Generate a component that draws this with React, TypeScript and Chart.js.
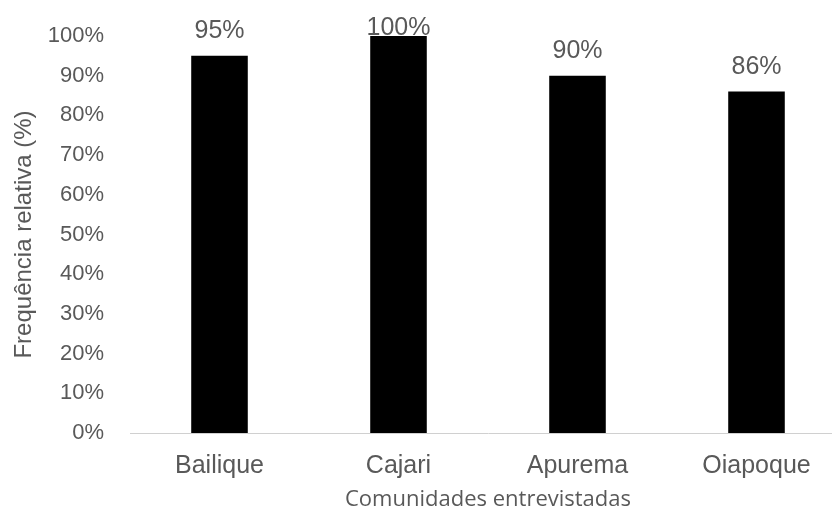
import React, { useEffect, useRef } from "react";
import { Chart, registerables } from "chart.js";

Chart.register(...registerables);

const categories: string[] = ["Bailique", "Cajari", "Apurema", "Oiapoque"];
const frequencies: number[] = [95, 100, 90, 86];
const yTickStep = 10;
const yMax = 100;
const xTitle = "Comunidades entrevistadas";
const yTitle = "Frequência relativa (%)";

const TEXT = "#595959";
const ARIAL = "'Liberation Sans', Arial, sans-serif";

// Value labels above each bar, kept inside the top of the plot area.
const valueLabels = {
  id: "valueLabels",
  afterDatasetsDraw(chart: Chart) {
    const { ctx } = chart;
    const meta = chart.getDatasetMeta(0);
    ctx.save();
    ctx.font = `25px ${ARIAL}`;
    ctx.fillStyle = TEXT;
    ctx.textAlign = "center";
    ctx.textBaseline = "alphabetic";
    meta.data.forEach((el: any, i: number) => {
      const y = Math.max(el.y - 18, chart.chartArea.top - 1);
      ctx.fillText(`${frequencies[i]}%`, el.x, y);
    });
    ctx.restore();
  },
};

export default function App() {
  const ref = useRef<HTMLCanvasElement | null>(null);

  useEffect(() => {
    if (!ref.current) return;
    const chart = new Chart(ref.current, {
      type: "bar",
      data: {
        labels: categories,
        datasets: [
          {
            data: frequencies,
            backgroundColor: "#000000",
            borderWidth: 0,
            categoryPercentage: 1,
            barPercentage: 0.316,
          },
        ],
      },
      options: {
        animation: false,
        responsive: false,
        devicePixelRatio: 1,
        layout: { padding: { top: 36, right: 4, bottom: 0, left: 0 } },
        plugins: {
          legend: { display: false },
          tooltip: { enabled: false },
        },
        scales: {
          x: {
            grid: { display: false, drawTicks: false },
            border: { display: true, color: "#d0d0d0", width: 1 },
            ticks: {
              color: TEXT,
              font: { family: ARIAL, size: 25 },
              padding: 18,
              maxRotation: 0,
            },
            title: {
              display: true,
              text: xTitle,
              color: TEXT,
              font: { family: "'Open Sans', sans-serif", size: 22 },
              padding: { top: 0, bottom: 2 },
            },
            afterFit: (s: any) => {
              s.height = 82;
            },
          },
          y: {
            min: 0,
            max: yMax,
            grid: { display: false, drawTicks: false },
            border: { display: false },
            ticks: {
              stepSize: yTickStep,
              color: TEXT,
              font: { family: ARIAL, size: 22 },
              padding: 26,
              callback: (v: any) => `${v}%`,
            },
            title: {
              display: true,
              text: yTitle,
              color: TEXT,
              font: { family: ARIAL, size: 24 },
              padding: { top: 10, bottom: 0 },
            },
            afterFit: (s: any) => {
              s.width = 130;
              // plot top/bottom come from the layout padding alone
              s.paddingTop = 0;
              s.paddingBottom = 0;
            },
          },
        },
      },
      plugins: [valueLabels],
    });
    return () => chart.destroy();
  }, []);

  return (
    <div
      style={{
        position: "absolute",
        left: 0,
        top: 0,
        width: 832,
        height: 515,
        overflow: "hidden",
        background: "#ffffff",
      }}
    >
      <canvas ref={ref} width={850} height={515} style={{ display: "block" }} />
    </div>
  );
}
